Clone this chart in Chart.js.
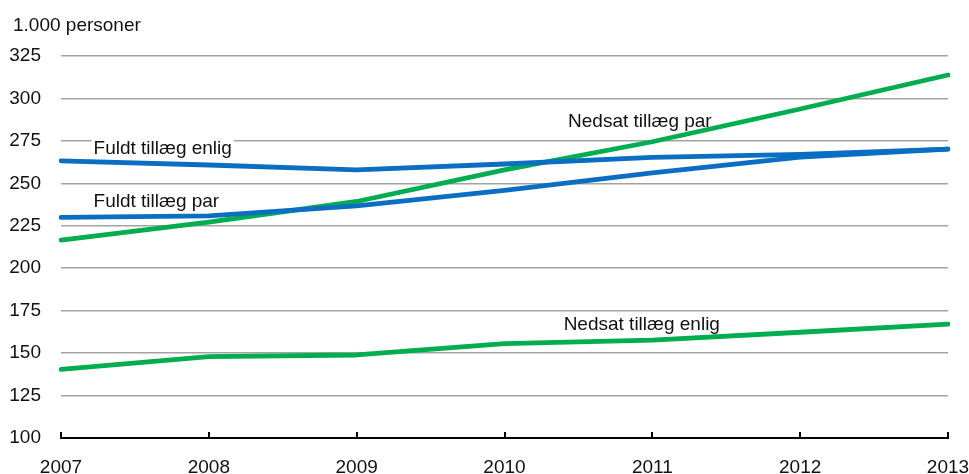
<!DOCTYPE html>
<html>
<head>
<meta charset="utf-8">
<script src="https://cdn.jsdelivr.net/npm/chart.js@4/dist/chart.umd.min.js"></script>
<style>
  html, body { margin: 0; padding: 0; background: #fff; }
  #wrap { width: 969px; height: 474px; position: relative; }
</style>
</head>
<body>
<div id="wrap"><canvas id="c"></canvas></div>
<script>
// ---- Data ----
const years = ['2007', '2008', '2009', '2010', '2011', '2012', '2013'];
const fuldtEnlig  = [263.2, 260.8, 257.9, 261.4, 265.3, 267.0, 270.2];
const fuldtPar    = [229.9, 230.8, 236.7, 245.8, 256.1, 265.5, 270.2];
const nedsatPar   = [216.6, 227.2, 239.3, 257.9, 274.5, 293.8, 313.8];
const nedsatEnlig = [140.4, 147.9, 148.9, 155.6, 157.7, 162.3, 167.1];
const unitLabel = '1.000 personer';
const seriesNames = ['Fuldt tillæg enlig', 'Fuldt tillæg par', 'Nedsat tillæg par', 'Nedsat tillæg enlig'];

const BLUE = '#0a6ec2';
const GREEN = '#00ad4f';
const FONT = "'Liberation Sans', Arial, sans-serif";
const FSIZE = 19;

// in-chart labels, placed in data coordinates (category index, value at baseline)
const lineLabels = [
  { text: seriesNames[0], xi: 0.22, y: 267.3 },
  { text: seriesNames[1], xi: 0.22, y: 236.2 },
  { text: seriesNames[2], xi: 3.43, y: 283.2 },
  { text: seriesNames[3], xi: 3.40, y: 163.6 }
];

const decorPlugin = {
  id: 'decor',
  beforeDatasetsDraw(chart) {
    const ctx = chart.ctx;
    const xs = chart.scales.x, ys = chart.scales.y;
    ctx.save();
    ctx.font = FSIZE + 'px ' + FONT;
    ctx.textBaseline = 'alphabetic';
    ctx.textAlign = 'left';
    lineLabels.forEach(l => {
      const px = xs.getPixelForValue(l.xi);
      const py = ys.getPixelForValue(l.y);
      const w = ctx.measureText(l.text).width;
      ctx.fillStyle = '#fff';
      ctx.fillRect(px - 2, py - 17, w + 4, 21);
      ctx.fillStyle = '#111';
      ctx.fillText(l.text, px, py);
    });
    ctx.restore();
  },
  afterDraw(chart) {
    const ctx = chart.ctx;
    const xs = chart.scales.x;
    const bottom = chart.chartArea.bottom;
    ctx.save();
    // upward tick marks on x axis
    ctx.strokeStyle = '#000';
    ctx.lineWidth = 2;
    years.forEach((y, i) => {
      const px = Math.round(xs.getPixelForValue(i));
      ctx.beginPath();
      ctx.moveTo(px, bottom);
      ctx.lineTo(px, bottom - 6);
      ctx.stroke();
    });
    // unit label
    ctx.fillStyle = '#111';
    ctx.font = FSIZE + 'px ' + FONT;
    ctx.textBaseline = 'middle';
    ctx.textAlign = 'left';
    ctx.fillText(unitLabel, 13, 26);
    ctx.restore();
  }
};

function ds(label, data, color) {
  return {
    label, data,
    borderColor: color,
    backgroundColor: color,
    borderWidth: 4.8,
    pointRadius: 0,
    tension: 0,
    fill: false,
    borderCapStyle: 'round',
    borderJoinStyle: 'round'
  };
}

new Chart(document.getElementById('c'), {
  type: 'line',
  data: {
    labels: years,
    datasets: [
      ds(seriesNames[0], fuldtEnlig, BLUE),
      ds(seriesNames[1], fuldtPar, BLUE),
      ds(seriesNames[2], nedsatPar, GREEN),
      ds(seriesNames[3], nedsatEnlig, GREEN)
    ]
  },
  options: {
    responsive: true,
    maintainAspectRatio: false,
    animation: false,
    layout: { padding: { left: 0, right: 21, top: 56, bottom: 0 } },
    plugins: {
      legend: { display: false },
      tooltip: { enabled: false },
      title: { display: false }
    },
    scales: {
      x: {
        type: 'category',
        offset: false,
        grid: { display: false, drawTicks: false },
        border: { display: true, color: '#000', width: 2 },
        ticks: {
          color: '#111',
          font: { family: FONT, size: FSIZE },
          padding: 18,
          maxRotation: 0,
          autoSkip: false
        },
        afterFit(scale) {
          scale.height = 36;
          scale.paddingLeft = 0;
          scale.paddingRight = 0;
        }
      },
      y: {
        min: 100,
        max: 325,
        border: { display: false },
        grid: {
          drawTicks: false,
          color: ctx => ctx.tick && ctx.tick.value === 100 ? 'rgba(0,0,0,0)' : '#a3a3a3',
          lineWidth: 1.6
        },
        ticks: {
          stepSize: 25,
          color: '#111',
          font: { family: FONT, size: FSIZE },
          padding: 20
        },
        afterFit(scale) {
          scale.width = 61;
          scale.paddingTop = 0;
          scale.paddingBottom = 0;
        }
      }
    }
  },
  plugins: [decorPlugin]
});
</script>
</body>
</html>
